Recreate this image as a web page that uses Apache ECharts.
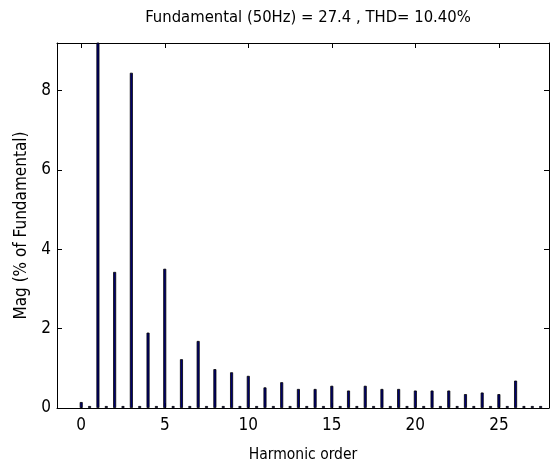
<!DOCTYPE html>
<html>
<head>
<meta charset="utf-8">
<script src="https://cdn.jsdelivr.net/npm/echarts@6/dist/echarts.min.js"></script>
<style>
html,body{margin:0;padding:0;background:#fff;}
#c{width:552px;height:468px;}
</style>
</head>
<body>
<div id="c"></div>
<script>
var harmonicOrder = [0,0.5,1,1.5,2,2.5,3,3.5,4,4.5,5,5.5,6,6.5,7,7.5,8,8.5,9,9.5,10,10.5,11,11.5,12,12.5,13,13.5,14,14.5,15,15.5,16,16.5,17,17.5,18,18.5,19,19.5,20,20.5,21,21.5,22,22.5,23,23.5,24,24.5,25,25.5,26,26.5,27,27.5];
var magnitude = [0.15,0.05,100,0.05,3.43,0.05,8.45,0.05,1.90,0.05,3.51,0.05,1.23,0.05,1.69,0.05,0.98,0.05,0.90,0.05,0.81,0.05,0.52,0.05,0.65,0.05,0.48,0.05,0.48,0.05,0.56,0.05,0.44,0.05,0.56,0.05,0.48,0.05,0.48,0.05,0.44,0.05,0.44,0.05,0.44,0.05,0.35,0.05,0.39,0.05,0.35,0.05,0.69,0.05,0.05,0.05];
var xTicks = [0,5,10,15,20,25];
var yTicks = [0,2,4,6,8];
var titleText = 'Fundamental (50Hz) = 27.4 , THD= 10.40%';
var xName = 'Harmonic order';
var yName = 'Mag (% of Fundamental)';

var FONT = "'Liberation Sans Narrow','DejaVu Sans Condensed',Arial,sans-serif";
var chart = echarts.init(document.getElementById('c'), null, {renderer:'canvas'});
var pts = harmonicOrder.map(function(x,i){return [x, magnitude[i]];});
function axLine(){ return {show:true, onZero:false, lineStyle:{color:'#000', width:1}}; }
chart.setOption({
  animation:false,
  backgroundColor:'#fff',
  title:{text:titleText, left:303, top:4, textAlign:'center',
    textStyle:{fontFamily:FONT, fontSize:16.5, fontWeight:'normal', color:'#000'}},
  grid:{left:57, right:3, top:43, bottom:59, containLabel:false},
  xAxis:[{
    type:'value', min:-1.45, max:28, position:'bottom',
    name:xName, nameLocation:'middle', nameGap:39,
    nameTextStyle:{fontFamily:FONT, fontSize:15.5, color:'#000'},
    axisLine:axLine(),
    axisTick:{show:true, inside:true, length:5, customValues:xTicks, lineStyle:{color:'#000'}},
    axisLabel:{customValues:xTicks, fontFamily:FONT, fontSize:17, color:'#000', margin:9},
    splitLine:{show:false}
  },{
    type:'value', min:-1.45, max:28, position:'top',
    axisLine:axLine(),
    axisTick:{show:true, inside:true, length:5, customValues:xTicks, lineStyle:{color:'#000'}},
    axisLabel:{show:false}, splitLine:{show:false}
  }],
  yAxis:[{
    type:'value', min:0, max:9.2, position:'left',
    name:yName, nameLocation:'middle', nameGap:27, nameRotate:90,
    nameTextStyle:{fontFamily:FONT, fontSize:17, color:'#000'},
    axisLine:axLine(),
    axisTick:{show:true, inside:true, length:5, customValues:yTicks, lineStyle:{color:'#000'}},
    axisLabel:{customValues:yTicks, fontFamily:FONT, fontSize:17, color:'#000', margin:6},
    splitLine:{show:false}
  },{
    type:'value', min:0, max:9.2, position:'right',
    axisLine:axLine(),
    axisTick:{show:true, inside:true, length:5, customValues:yTicks, lineStyle:{color:'#000'}},
    axisLabel:{show:false}, splitLine:{show:false}
  }],
  series:[{
    type:'bar', xAxisIndex:0, yAxisIndex:0,
    data:pts, barWidth:3, clip:true,
    itemStyle:{color:'#000070', borderColor:'#000', borderWidth:0.8}
  }]
});
</script>
</body>
</html>
